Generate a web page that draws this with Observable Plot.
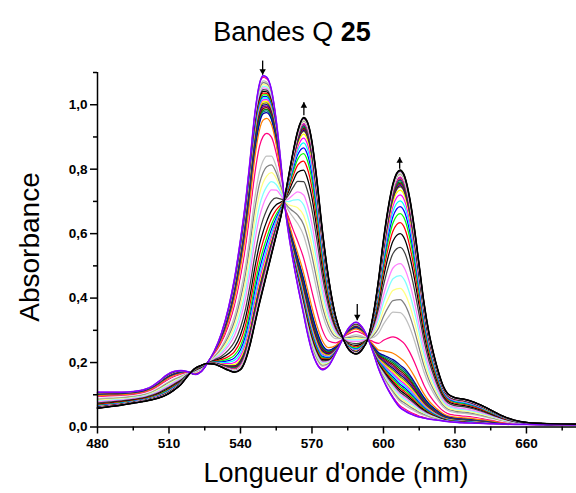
<!DOCTYPE html>
<html><head><meta charset="utf-8">
<script src="https://cdn.jsdelivr.net/npm/d3@7"></script>
<script src="https://cdn.jsdelivr.net/npm/@observablehq/plot@0.6"></script>
<style>
html,body{margin:0;padding:0;background:#fff;}
#chart svg{display:block;}
</style></head><body><div id="chart"></div>
<script>
// Wavelength grid (nm) and the two end spectra
const wavelengths = [480,485,490,495,500,503,506,509,512,515,518,521,523.5,526,529,532,535,537.5,540,542,544,546,548,549.5,551,553,555,557,558.5,560,562,564,566.5,568,570,572,574.5,577,580,583,585.5,588.5,591,593.5,596,598,600,602,604,607,609,611,613,615,617,619,621,623,625,627,630,634,638,642,646,650,655,660,670,681];
// first spectrum (violet)
const initialAbs = [0.108,0.108,0.108,0.110,0.117,0.127,0.143,0.161,0.172,0.175,0.171,0.163,0.172,0.197,0.235,0.29,0.37,0.46,0.58,0.69,0.825,0.97,1.065,1.09,1.085,1.045,0.95,0.815,0.695,0.61,0.52,0.44,0.35,0.295,0.235,0.197,0.178,0.19,0.23,0.275,0.308,0.325,0.31,0.275,0.225,0.18,0.145,0.115,0.09,0.06,0.05,0.042,0.036,0.031,0.028,0.025,0.023,0.021,0.019,0.017,0.015,0.013,0.012,0.011,0.010,0.009,0.008,0.008,0.007,0.006];
// last spectrum (black)
const finalAbs = [0.058,0.063,0.068,0.074,0.080,0.085,0.091,0.100,0.114,0.132,0.160,0.182,0.191,0.197,0.195,0.186,0.176,0.170,0.178,0.205,0.255,0.32,0.385,0.43,0.475,0.535,0.595,0.655,0.71,0.77,0.85,0.918,0.96,0.948,0.885,0.77,0.60,0.46,0.34,0.275,0.24,0.227,0.24,0.275,0.36,0.46,0.58,0.68,0.755,0.797,0.775,0.71,0.615,0.50,0.385,0.295,0.228,0.172,0.128,0.103,0.091,0.086,0.077,0.064,0.049,0.034,0.021,0.014,0.010,0.009];
// absorbance of each recorded spectrum at 607 nm, in recording order
const levelAt607 = [0.060,0.066,0.072,0.078,0.084,0.090,0.096,0.102,0.108,0.114,0.120,0.126,0.132,0.138,0.144,0.150,0.156,0.162,0.168,0.174,0.180,0.186,0.192,0.214,
  0.27,0.315,0.355,0.395,0.43,0.47,0.507,0.557,0.60,0.634,0.662,0.684,0.702,0.72,0.735,
  0.745,0.749,0.753,0.757,0.761,0.765,0.768,0.771,0.774,0.777,0.780,0.783,0.786,0.788,0.790,0.792,0.794,0.797];
const curveColors = ["#8000FF","#FF0080","#FFFFFF","#C0C0C0","#808080","#FFFF80","#80FFFF","#FF80FF","#404040","#000000","#FF0000","#00FF00","#0000FF","#00FFFF","#FF00FF","#FFFF00","#808000","#000080","#800080","#800000","#008000","#008080","#0000A0","#FF8000",
  "#FF0080","#FFFFFF","#C0C0C0","#808080","#FFFF80","#80FFFF","#FF80FF","#404040","#000000","#FF0000","#00FF00","#0000FF","#00FFFF","#FF00FF","#FFFF00",
  "#808000","#000080","#800080","#800000","#008000","#008080","#0000A0","#FF8000","#8000FF","#FF0080","#FFFFFF","#C0C0C0","#808080","#FFFF80","#80FFFF","#FF80FF","#404040","#000000"];
const xTicks = [480,510,540,570,600,630,660];
const xMinor = [495,525,555,585,615,645,675];
const yTicks = [0,0.2,0.4,0.6,0.8,1.0];
const yMinor = [0.1,0.3,0.5,0.7,0.9,1.1];
// arrows: position, tail and tip absorbance
const arrowX = [549.3,566.6,589,606.8];
const arrowTail = [1.137,0.967,0.382,0.801];
const arrowTip = [1.093,1.008,0.331,0.837];

const j607 = wavelengths.indexOf(607);
const a0 = initialAbs[j607], a1 = finalAbs[j607];
const rows = [];
levelAt607.forEach((lv, k) => {
  const f = (lv - a0) / (a1 - a0);
  wavelengths.forEach((w, j) => rows.push({curve: k, w, a: initialAbs[j] + f * (finalAbs[j] - initialAbs[j]), color: curveColors[k]}));
});
const lastCurve = levelAt607.length - 1;
const endRows = rows.filter(d => d.curve === 0 || d.curve === lastCurve);
const arrows = arrowX.map((x, i) => ({x, tail: arrowTail[i], tip: arrowTip[i], up: arrowTip[i] > arrowTail[i]}));

const fmt = d => d.toFixed(1).replace(".", ",");
const font = "'Liberation Sans', Arial, sans-serif";
const chart = Plot.plot({
  width: 576, height: 493,
  marginLeft: 97, marginRight: 0, marginTop: 72, marginBottom: 66.5,
  style: {fontFamily: font, background: "#fff", color: "#000"},
  x: {domain: [480, 681], label: null},
  y: {domain: [0, 1.1], label: null},
  color: {type: "identity"},
  marks: [
    Plot.line(rows, {x: "w", y: "a", z: "curve", stroke: "color", strokeWidth: 1.25, curve: "monotone-x"}),
    Plot.line(endRows, {x: "w", y: "a", z: "curve", stroke: "color", strokeWidth: 1.6, curve: "monotone-x"}),
    Plot.ruleY([0], {stroke: "#000", strokeWidth: 1.5}),
    Plot.ruleX([480], {y1: 0, y2: 1.1, stroke: "#000", strokeWidth: 1.5}),
    Plot.axisX(xTicks, {tickSize: 7, tickPadding: 4, tickFormat: d => String(d), label: null, strokeWidth: 1.5, fontSize: 13.5, fontWeight: "bold", fontFamily: font}),
    Plot.axisX(xMinor, {tickSize: 4, tickFormat: () => "", label: null, strokeWidth: 1.5}),
    Plot.axisY(yTicks, {tickSize: 7, tickPadding: 3, tickFormat: fmt, label: null, strokeWidth: 1.5, fontSize: 13.5, fontWeight: "bold", fontFamily: font}),
    Plot.axisY(yMinor, {tickSize: 4, tickFormat: () => "", label: null, strokeWidth: 1.5}),
    Plot.link(arrows, {x1: "x", x2: "x", y1: "tail", y2: "tip", stroke: "#000", strokeWidth: 1.3}),
    Plot.dot(arrows.filter(d => d.up), {x: "x", y: "tip", symbol: "triangle", r: 2.4, fill: "#000", stroke: null, dy: 3.7}),
    Plot.dot(arrows.filter(d => !d.up), {x: "x", y: "tip", symbol: "triangle", r: 2.4, fill: "#000", stroke: null, rotate: 180, dy: -3.7})
  ]
});
document.getElementById("chart").appendChild(chart);

const svg = d3.select(chart);
const title = svg.append("text").attr("x", 292).attr("y", 41).attr("text-anchor", "middle")
  .style("font-family", font).style("font-size", "27px").style("font-weight", "normal");
title.append("tspan").text("Bandes Q\u00a0");
title.append("tspan").style("font-weight", "bold").text("25");
svg.append("text").attr("transform", "translate(39,247) rotate(-90)").attr("text-anchor", "middle")
  .style("font-family", font).style("font-size", "28px").style("font-weight", "normal").text("Absorbance");
svg.append("text").attr("x", 336).attr("y", 482).attr("text-anchor", "middle")
  .style("font-family", font).style("font-size", "27px").style("font-weight", "normal").text("Longueur d'onde (nm)");
</script></body></html>
